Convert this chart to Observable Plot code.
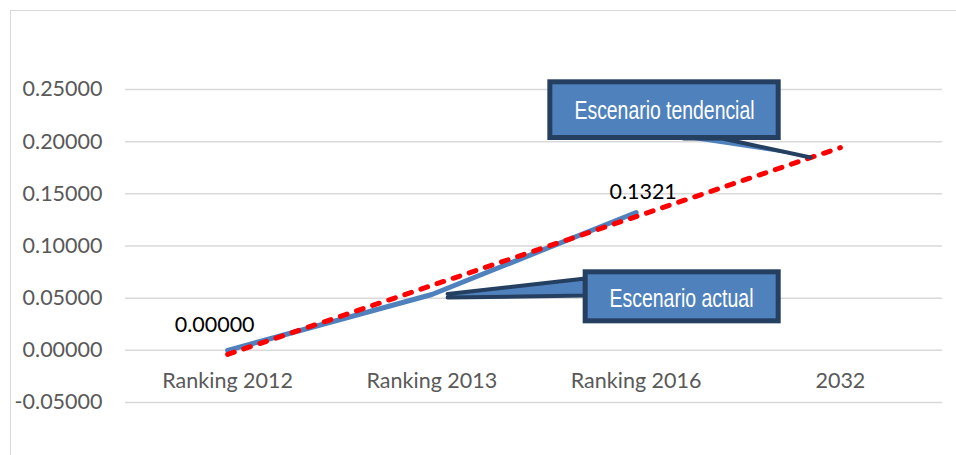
<!DOCTYPE html>
<html>
<head>
<meta charset="utf-8">
<script src="https://cdn.jsdelivr.net/npm/d3@7"></script>
<script src="https://cdn.jsdelivr.net/npm/@observablehq/plot@0.6"></script>
<style>
  html, body { margin: 0; padding: 0; background: #fff; overflow: hidden; }
  #wrap { position: relative; width: 956px; height: 455px; }
  #frame { position: absolute; left: 10px; top: 10px; width: 980px; height: 480px; border: 1px solid #d9d9d9; box-sizing: border-box; }
  #chart { position: absolute; left: 0; top: 0; }
  #chart svg { overflow: visible; }
</style>
</head>
<body>
<div id="wrap"><div id="frame"></div><div id="chart"></div></div>
<script>
// ---- data ----
const categories = ["Ranking 2012", "Ranking 2013", "Ranking 2016", "2032"];
const actualValues = [0.00000, 0.0535, 0.1321];          // Escenario actual (blue)
const trendValues = [-0.0039, 0.0622, 0.1282, 0.1943];  // Escenario tendencial (red dashed)
const yTicks = [-0.05, 0.00, 0.05, 0.10, 0.15, 0.20, 0.25];
const pointLabels = ["0.00000", "", "0.1321"];
const calloutTexts = ["Escenario tendencial", "Escenario actual"];

// ---- annotation geometry (in chart coordinates: category index, value) ----
const callouts = [
  { text: calloutTexts[0], width: 180, box: [1.580, 2.698, 0.2035, 0.2569], label: [2.139, 0.2298],
    tail: [[2.232, 0.2030], [2.423, 0.2030], [2.854, 0.1848]] },
  { text: calloutTexts[1], width: 144, box: [1.753, 2.698, 0.0278, 0.0748], label: [2.222, 0.0492],
    tail: [[1.077, 0.0540], [1.752, 0.0688], [1.752, 0.0525], [1.077, 0.0506]] }
];

const actual = actualValues.map((v, i) => ({i, v, label: pointLabels[i]}));
const trend = trendValues.map((v, i) => ({i, v}));
const cats = categories.map((c, i) => ({i, c}));

const tailData = callouts.flatMap((c, k) => c.tail.map(([x, y]) => ({k, x, y})));
const boxData = callouts.map((c, k) => ({k, x1: c.box[0], x2: c.box[1], y1: c.box[2], y2: c.box[3]}));
const labelData = callouts.map((c, k) => ({k, text: c.text, x: c.label[0], y: c.label[1]}));

const navy = "#243f60", blueFill = "#4f81bd";

const chart = Plot.plot({
  width: 956,
  height: 455,
  marginLeft: 125,
  marginRight: 14,
  marginTop: 89,
  marginBottom: 53,
  style: { fontFamily: "Lato, 'Open Sans', sans-serif", fontSize: "21px", background: "transparent", overflow: "visible" },
  x: { type: "linear", domain: [-0.5, 3.5], axis: null },
  y: { domain: [-0.05, 0.25], axis: null },
  marks: [
    Plot.ruleY(yTicks, { stroke: "#d9d9d9", strokeWidth: 1.5 }),
    Plot.axisY({ ticks: yTicks, tickSize: 0, tickPadding: 23, tickFormat: d => d.toFixed(5),
                 fill: "#595959", fontSize: 21.5, fontFamily: "Lato, sans-serif" }),
    Plot.text(cats, { x: "i", y: d => 0, text: "c", dy: 31, fill: "#595959", fontSize: 21.5 }),
    Plot.line(actual, { x: "i", y: "v", stroke: "#4f81bd", strokeWidth: 5, strokeLinejoin: "round" }),
    Plot.line(trend, { x: "i", y: "v", stroke: "#ff0000", strokeWidth: 5, strokeDasharray: "7,10", strokeLinecap: "round" }),
    Plot.text(actual.filter(d => d.i === 0), { x: "i", y: "v", text: "label", dx: -13, dy: -25, fill: "#000", fontSize: 21.5 }),
    Plot.text(actual.filter(d => d.i === 2), { x: "i", y: "v", text: "label", dx: 7, dy: -20, fill: "#000", fontSize: 21.5 }),
    Plot.line(tailData, { x: "x", y: "y", z: "k", fill: blueFill, stroke: navy, strokeWidth: 4, strokeLinejoin: "miter" }),
    Plot.rect(boxData, { x1: "x1", x2: "x2", y1: "y1", y2: "y2", fill: blueFill, stroke: navy, strokeWidth: 5 }),
    Plot.text(labelData, { x: "x", y: "y", text: "text", fill: "#fff", fontSize: 25.5, fontFamily: "'Liberation Sans', Arial, sans-serif" })
  ]
});
// compress callout texts horizontally like the narrow font of the reference
chart.querySelectorAll("text").forEach(t => {
  const c = callouts.find(c => c.text === t.textContent);
  if (c) { t.setAttribute("textLength", c.width); t.setAttribute("lengthAdjust", "spacingAndGlyphs"); }
});
document.getElementById("chart").appendChild(chart);
</script>
</body>
</html>
